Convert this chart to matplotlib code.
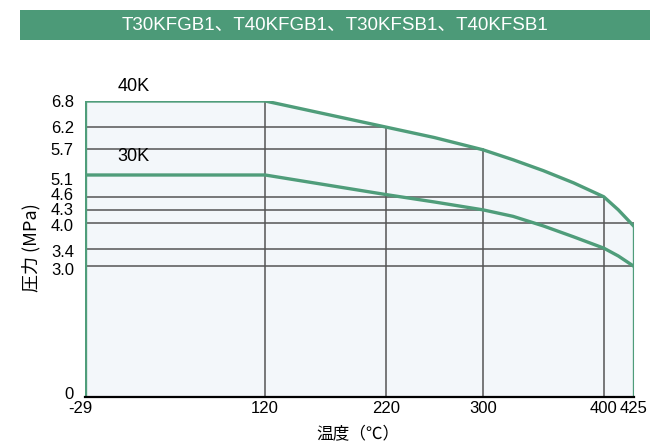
import matplotlib
matplotlib.use("Agg")
import matplotlib.pyplot as plt
import matplotlib.transforms as mtransforms
from matplotlib.patches import Rectangle

plt.rcParams['font.family'] = ['Liberation Sans', 'Noto Sans CJK JP', 'DejaVu Sans']

title = 'T30KFGB1、T40KFGB1、T30KFSB1、T40KFSB1'
temp = [-29, 120, 220, 260, 300, 325, 350, 375, 400, 412, 425]
p40 = [6.8, 6.8, 6.2, 5.96, 5.68, 5.45, 5.2, 4.92, 4.6, 4.3, 3.92]
p30 = [5.1, 5.1, 4.65, 4.48, 4.3, 4.15, 3.93, 3.68, 3.42, 3.24, 3.0]
xticks = [-29, 120, 220, 300, 400, 425]
yticks = [0, 3.0, 3.4, 4.0, 4.3, 4.6, 5.1, 5.7, 6.2, 6.8]
# reference lines: vertical (x, top) and horizontal (y, right end)
vline_x = [120, 220, 300, 400]
vline_top = [6.8, 6.2, 5.68, 4.6]
hline_y = [6.2, 5.7, 4.6, 4.3, 4.0, 3.4, 3.0]
hline_end = [220, 300, 400, 300, 425, 400, 425]

green = '#4f9d7a'
fill = '#f3f7fa'
grid = '#555555'

fig = plt.figure(figsize=(6.5, 4.48), dpi=100)
ax = fig.add_axes([85/650, 51/448, 549/650, 296/448])

ax.fill_between(temp, p40, 0, color=fill, lw=0, zorder=0)

for x, top in zip(vline_x, vline_top):
    ax.plot([x, x], [0, top], color=grid, lw=1.1, zorder=1)
for y, end in zip(hline_y, hline_end):
    ax.plot([temp[0], end], [y, y], color=grid, lw=1.1, zorder=1)

# envelope edges
ax.plot([temp[0], temp[0]], [0, p40[0]], color=green, lw=2.4, zorder=3)
ax.plot([temp[-1], temp[-1]], [0, p40[-1]], color=green, lw=2.4, zorder=3)
ax.plot(temp, p40, color=green, lw=2.4, zorder=3, solid_joinstyle='round')
ax.plot(temp, p30, color=green, lw=2.4, zorder=3, solid_joinstyle='round')
ax.plot([temp[0], temp[-1]], [0, 0], color='black', lw=1.6, zorder=4, clip_on=False)

ax.text(11, 7.14, '40K', fontsize=13, ha='center', va='center')
ax.text(11, 5.52, '30K', fontsize=13, ha='center', va='center')

ax.set_xlim(-29, 425)
ax.set_ylim(0, 6.8)
ax.set_xticks(xticks)
ax.set_xticklabels([str(v) for v in xticks], fontsize=12)
ax.set_yticks(yticks)
ax.set_yticklabels(['0'] + ['%.1f' % v for v in yticks[1:]], fontsize=12)
ax.tick_params(length=0, pad=8)
ax.tick_params(axis='x', pad=3)
for s in ax.spines.values():
    s.set_visible(False)
ax.patch.set_visible(False)

# nudge crowded labels like the original
shift = {'5.1': -4, '4.6': 3, '4.3': 1, '4.0': -2, '3.4': -2, '3.0': -3, '0': 4}
for lab in ax.get_yticklabels():
    d = shift.get(lab.get_text(), 0)
    if d:
        lab.set_transform(lab.get_transform() +
                          mtransforms.ScaledTranslation(0, d/100, fig.dpi_scale_trans))
for lab in ax.get_xticklabels():
    if lab.get_text() == '-29':
        lab.set_transform(lab.get_transform() +
                          mtransforms.ScaledTranslation(-5/100, 0, fig.dpi_scale_trans))

fig.text(31/650, 1 - 248/448, '圧力 (MPa)', rotation=90, fontsize=13,
         ha='center', va='center', family=['Noto Sans CJK JP', 'DejaVu Sans'])
fig.text(358/650, 1 - 435/448, '温度（℃）', fontsize=12,
         ha='center', va='center', family=['Noto Sans CJK JP', 'DejaVu Sans'])

fig.patches.append(Rectangle((20/650, 1 - 40/448), 630/650, 30/448,
                             transform=fig.transFigure, color='#4c9a78', lw=0))
fig.text(335/650, 1 - 25/448, title, fontsize=13.5, color='white',
         ha='center', va='center',
         family=['Liberation Sans', 'Noto Sans CJK JP', 'DejaVu Sans'])

fig.savefig('out.png', dpi=100)
